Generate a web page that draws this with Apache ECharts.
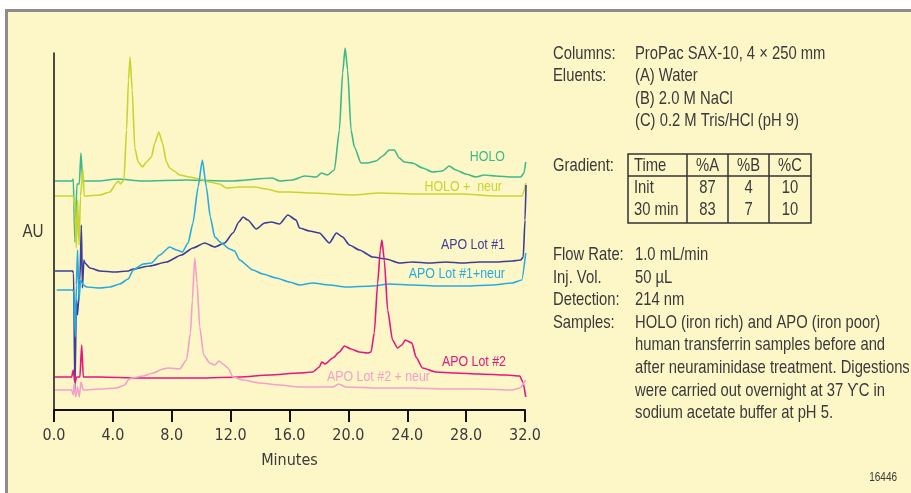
<!DOCTYPE html>
<html>
<head>
<meta charset="utf-8">
<script src="https://cdn.jsdelivr.net/npm/echarts@6/dist/echarts.min.js"></script>
<style>
html,body{margin:0;padding:0;background:#fff;}
#wrap{position:relative;width:911px;height:493px;overflow:hidden;background:#fff;}
#panel{position:absolute;left:5px;top:9px;width:906px;height:484px;background:#fdf7c8;border-left:3px solid #8c8c8c;border-top:3px solid #8c8c8c;box-sizing:border-box;}
#chart{position:absolute;left:0;top:0;width:911px;height:493px;}
</style>
</head>
<body>
<div id="wrap"><div id="panel"></div><div id="chart"></div></div>
<script>
// ---- data (x: minutes, y: detector response in arbitrary AU, offset traces) ----
const xTickLabels = ['0.0','4.0','8.0','12.0','16.0','20.0','24.0','28.0','32.0'];
const seriesNames = ['HOLO','HOLO +  neur','APO Lot #1','APO Lot #1+neur','APO Lot #2','APO Lot #2 + neur'];
const seriesColors = ['#3cb98b','#c9d430','#3c3e98','#24ace2','#e6167f','#f4a0ca'];

const holo = [[0.07,229],[1.22,229],[1.31,231],[1.42,168],[1.56,226],[1.72,226],[1.83,257],[1.95,229],[3,229],[4.3,231],[6,229],[9,230],[12,229],[14.85,232],[15.32,229],[16.2,230],[17.02,234],[17.83,233],[18.17,237],[18.58,235],[19.05,240],[19.39,280],[19.61,337],[19.78,362],[19.95,340],[20.18,280],[20.41,263],[20.86,247],[21.31,247],[21.88,249],[22.33,254],[22.78,260],[23.12,260],[23.46,252],[23.8,248],[24.36,247],[25.04,242],[25.72,238],[26.39,239],[26.85,244],[27.3,240],[27.98,236],[28.66,233],[29.22,235],[30.01,234],[31.14,233],[31.71,233],[31.93,237],[32.05,248]];

const holoNeur = [[0.07,214],[1.31,214],[1.42,200],[1.52,162],[1.6,210],[1.7,165],[1.8,214],[1.97,240],[2.05,214],[3.12,215],[3.8,218],[4.25,227],[4.36,229],[4.52,226],[4.75,230],[4.93,280],[5.06,330],[5.17,353],[5.31,320],[5.49,262],[5.72,248],[6.01,243],[6.28,248],[6.62,253],[6.85,267],[7.12,278],[7.37,267],[7.64,248],[7.86,242],[8.16,239],[8.54,235],[9.22,233],[9.9,231],[10.58,228],[11.25,226],[11.71,222],[12.61,223],[13.63,223],[14.42,221],[15.32,218],[16.11,218],[17.47,217],[20.29,215],[22.1,217],[24.81,216],[27.73,216],[30.01,214],[31.8,214],[32.07,227]];

const apo1 = [[0.07,139],[1.26,139],[1.33,137],[1.42,20],[1.52,110],[1.6,95],[1.76,130],[1.86,185],[1.93,122],[2.03,150],[2.1,147],[2.44,142],[3.12,139],[4.14,138],[5.04,139],[5.38,141],[6.51,144],[7.64,148],[8.66,155],[9.44,162],[10.24,167],[10.92,163],[11.59,167],[12.16,177],[12.56,188],[12.84,193],[13.17,190],[13.74,181],[14.31,187],[14.76,188],[15.32,186],[15.89,195],[16.45,190],[16.68,182],[17.36,179],[18.03,177],[18.71,167],[19.19,177],[19.61,173],[20.07,165],[20.75,160],[21.65,153],[22.56,151],[23.46,147],[24.36,148],[25.49,147],[26.62,148],[27.75,147],[28.88,148],[30.01,148],[31.14,149],[31.71,150],[31.88,153],[32.0,190],[32.07,225]];

const apo1Neur = [[0.18,120],[1.26,120],[1.36,118],[1.45,73],[1.52,125],[1.6,160],[1.7,110],[1.8,130],[1.99,125],[2.22,123],[3.12,122],[3.8,123],[4.47,126],[5.04,131],[5.38,140],[6.06,146],[6.62,147],[7.19,155],[7.86,163],[8.32,160],[8.72,158],[9.11,167],[9.44,187],[9.79,223],[10.08,250],[10.35,223],[10.62,193],[10.92,173],[11.37,167],[11.93,161],[12.27,159],[12.61,150],[13.51,140],[14.19,136],[15.1,132],[16.0,128],[16.68,125],[17.58,127],[18.71,125],[19.84,123],[21.65,124],[22.78,126],[24.36,125],[26.17,124],[27.98,124],[29.78,125],[31.14,127],[31.78,130],[32.05,157]];

const apo2 = [[0.07,33],[1.2,33],[1.31,40],[1.42,27],[1.54,33],[1.76,33],[1.88,65],[1.99,33],[3.12,33],[5.83,32],[9.9,32],[12.61,33],[14.64,35],[16.68,37],[17.58,38],[18.03,43],[18.19,48],[18.42,46],[18.94,52],[19.39,58],[19.73,64],[20.18,61],[20.75,58],[21.31,57],[21.54,58],[21.76,77],[21.99,127],[22.17,160],[22.28,170],[22.44,150],[22.67,100],[23.0,70],[23.34,62],[23.64,65],[23.86,70],[24.32,67],[24.59,53],[25.04,42],[25.95,38],[27.3,37],[28.88,36],[30.69,35],[31.64,34],[31.86,28],[32.05,13]];

const apo2Neur = [[0.07,20],[1.2,20],[1.31,15],[1.38,27],[1.47,13],[1.6,23],[1.72,13],[1.83,28],[1.99,20],[3.12,21],[4.25,22],[4.81,25],[5.04,30],[5.27,32],[6.06,34],[6.73,37],[7.41,41],[7.75,42],[8.54,41],[9.0,50],[9.27,77],[9.4,110],[9.56,152],[9.72,127],[9.9,83],[10.17,55],[10.58,47],[10.92,45],[11.21,49],[11.48,46],[11.82,42],[12.16,33],[12.84,30],[13.97,27],[15.32,25],[16.68,23],[17.58,23],[18.94,23],[19.34,26],[19.84,23],[22.1,22],[24.36,22],[26.62,21],[28.88,21],[31.14,20],[31.64,22],[32.05,30]];

const seriesData = [holo, holoNeur, apo1, apo1Neur, apo2, apo2Neur];

// ---- conditions text ----
const block1Labels = ['Columns:','Eluents:','',''];
const block1Values = ['ProPac SAX-10, 4 \u00d7 250 mm','(A) Water','(B) 2.0 M NaCl','(C) 0.2 M Tris/HCl (pH 9)'];
const gradientLabel = 'Gradient:';
const gradientHeader = ['Time','%A','%B','%C'];
const gradientRows = [['Init','87','4','10'],['30 min','83','7','10']];
const block3Labels = ['Flow Rate:','Inj. Vol.','Detection:','Samples:','','','',''];
const block3Values = ['1.0 mL/min','50 \u00b5L','214 nm','HOLO (iron rich) and APO (iron poor)','human transferrin samples before and','after neuraminidase treatment. Digestions','were carried out overnight at 37 \u03d2C in','sodium acetate buffer at pH 5.'];
const figureId = '16446';
const yAxisTitle = 'AU';
const xAxisTitle = 'Minutes';

// ---- layout ----
const FONT = "'Liberation Sans',Arial,sans-serif";
const AXFONT = "'DejaVu Sans Condensed','Liberation Sans',sans-serif";
const SX = 0.80; // horizontal condensing for graphic texts
const TXT = '#3a3a3a';
const labelPos = [ // [right edge x, y center]
  [505,157],[502,187],[505,245],[505,274],[506,362],[430,377]
];

function txt(x, y, text, size, color, align) {
  return {type:'text', x:x, y:y, scaleX:SX,
    style:{text:text, fill:color||TXT, font:size+'px '+FONT, textAlign:align||'left', textVerticalAlign:'middle'}};
}

const chart = echarts.init(document.getElementById('chart'), null, {renderer:'canvas'});
const graphics = [];

labelPos.forEach((p,i)=>{ graphics.push(txt(p[0], p[1], seriesNames[i], 15.5, seriesColors[i], 'right')); });

graphics.push(txt(33, 232, yAxisTitle, 19, TXT, 'center'));
graphics.push(txt(897, 478, figureId, 12.5, TXT, 'right'));

const LX = 553, VX = 635, LH = 22.3, FS = 18.5;
block1Labels.forEach((t,i)=>{
  const y = 54 + i*LH;
  if (t) graphics.push(txt(LX, y, t, FS));
  graphics.push(txt(VX, y, block1Values[i], FS));
});

// gradient table
const tL = 628, tR = 811, tT = 154, tRow = 176, tB = 223;
const colX = [628, 687, 728, 769, 811];
graphics.push(txt(LX, 166, gradientLabel, FS));
graphics.push({type:'rect', shape:{x:tL, y:tT, width:tR-tL, height:tB-tT}, style:{fill:'none', stroke:'#333', lineWidth:1.5}});
graphics.push({type:'line', shape:{x1:tL, y1:tRow, x2:tR, y2:tRow}, style:{stroke:'#333', lineWidth:1.5}});
for (let c=1;c<4;c++) graphics.push({type:'line', shape:{x1:colX[c], y1:tT, x2:colX[c], y2:tB}, style:{stroke:'#333', lineWidth:1.5}});
const rowY = [166, 188, 210];
[gradientHeader].concat(gradientRows).forEach((row,r)=>{
  row.forEach((cell,c)=>{
    const left = c===0;
    graphics.push(txt(left ? colX[0]+6 : (colX[c]+colX[c+1])/2, rowY[r], cell, FS, TXT, left?'left':'center'));
  });
});

block3Labels.forEach((t,i)=>{
  const y = 255 + i*22.6;
  if (t) graphics.push(txt(LX, y, t, FS));
  graphics.push(txt(VX, y, block3Values[i], FS));
});

const option = {
  backgroundColor: 'transparent',
  animation: false,
  grid: {left:54, right:386, top:53, bottom:83, containLabel:false},
  xAxis: {
    type:'value', min:0, max:32, interval:4,
    name: xAxisTitle, nameLocation:'middle', nameGap:43,
    nameTextStyle:{color:TXT, fontSize:16, fontFamily:AXFONT},
    axisLine:{show:true, onZero:false, lineStyle:{color:'#111', width:2}},
    axisTick:{show:true, length:12, lineStyle:{color:'#111', width:2}},
    axisLabel:{margin:18, color:TXT, fontSize:16, fontFamily:AXFONT,
      formatter:(v)=>xTickLabels[Math.round(v/4)] || ''},
    splitLine:{show:false}
  },
  yAxis: {
    type:'value', min:0, max:357,
    axisLine:{show:true, lineStyle:{color:'#111', width:1.5}},
    axisTick:{show:false}, axisLabel:{show:false}, splitLine:{show:false}
  },
  series: seriesData.map((d,i)=>({
    type:'line', name:seriesNames[i], data:d, showSymbol:false, clip:false,
    smooth:0.2, smoothMonotone:'x', lineStyle:{color:seriesColors[i], width:1.6}, z: 2+i
  })),
  graphic: graphics
};
chart.setOption(option);
</script>
</body>
</html>
